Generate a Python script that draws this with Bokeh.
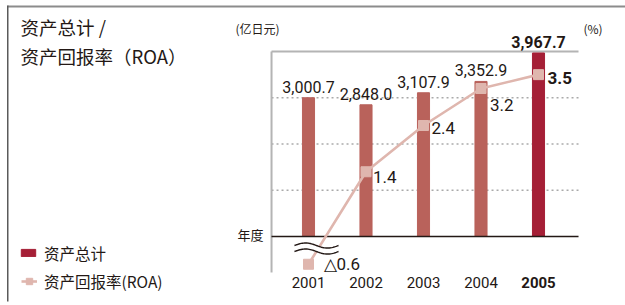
import numpy as np
from bokeh.plotting import figure
from bokeh.models import (Range1d, Label, LabelSet, ColumnDataSource,
                          Legend, LegendItem, BoxAnnotation)
from bokeh.core.properties import value, field
from bokeh.embed import file_html
from bokeh.resources import INLINE

# ---------------- data ----------------
years = [2001, 2002, 2003, 2004, 2005]
year_labels = ["2001", "2002", "2003", "2004", "2005"]
total_assets = [3000.7, 2848.0, 3107.9, 3352.9, 3967.7]   # 亿日元
roa = [-0.6, 1.4, 2.4, 3.2, 3.5]                          # %
title_lines = ["资产总计 /", "资产回报率（ROA）"]
legend_labels = ["资产总计", "资产回报率(ROA)"]
left_unit = "(亿日元)"
right_unit = "(%)"
x_caption = "年度"
grid_ticks = [1000, 2000, 3000]
axis_top = 4000

# ---------------- styles ----------------
BAR = "#B9625B"
HIGHLIGHT = "#A51F36"
ROA_C = "#DFB6AE"
INK = "#231815"
FRAME = "#B4B4B4"
NUM_FONT = "Roboto"
CJK = "Noto Sans CJK SC"
roa_dx = [15, 7, 8, 9, 9]        # label offsets (px) from marker centre
roa_dy = [0, -5, -2, -16, -3]

W, H = 625, 305
# plot-area extent in data units (left/right edge of the framed area, bottom of the axis rule)
X_LEFT = years[0] - 0.643
X_RIGHT = years[-1] + 0.696
Y_BOTTOM = -778

p = figure(width=W, height=H, output_backend="svg", toolbar_location=None,
           x_range=Range1d(1995.6435, 2006.513), y_range=Range1d(-1491.9, 5102.8),
           min_border=0, outline_line_color=None,
           background_fill_color="white", border_fill_color="white")
p.extra_y_ranges = {"roa": Range1d(-1.4919, 5.1028)}
p.axis.visible = False
p.grid.visible = False

n = len(years)
weights = ["normal"] * (n - 1) + ["bold"]
bar_src = ColumnDataSource(dict(
    x=years, top=total_assets,
    color=[BAR] * (n - 1) + [HIGHLIGHT],
    label=[f"{v:,.1f}" for v in total_assets],
    weight=weights, year=year_labels))

roa_src = ColumnDataSource(dict(
    x=years, y=roa,
    label=[("△%.1f" % -v) if v < 0 else "%.1f" % v for v in roa],
    weight=weights, dx=roa_dx, dy=roa_dy))

# dotted grid lines
p.segment(x0=X_LEFT, x1=X_RIGHT, y0=grid_ticks, y1=grid_ticks,
          line_color="#AAAAAA", line_dash="2 3", line_width=1.5)
# frame: top rule and left rule
p.segment(x0=X_LEFT, x1=X_RIGHT, y0=axis_top, y1=axis_top, line_color=FRAME, line_width=2)
p.segment(x0=X_LEFT, x1=X_LEFT, y0=Y_BOTTOM, y1=axis_top, line_color=FRAME, line_width=2)

# bars
bars = p.vbar(x="x", top="top", width=0.21, color="color", source=bar_src)
# baseline
p.segment(x0=X_LEFT, x1=X_RIGHT, y0=0, y1=0, line_color=INK, line_width=1.6)

# ROA line
roa_line = p.line(x="x", y="y", source=roa_src, y_range_name="roa",
                  line_color=ROA_C, line_width=2.6)

# axis break symbol under the first year
t = np.linspace(0, 2 * np.pi, 40)
wx = years[0] + 0.139 + 0.383 * (t / np.pi - 1)
w1 = -195 + 55 * np.sin(t)
w2 = -325 + 55 * np.sin(t)
p.varea(x=wx, y1=w1, y2=w2, fill_color="white")
p.line(x=wx, y=w1, line_color=INK, line_width=1.4)
p.line(x=wx, y=w2, line_color=INK, line_width=1.4)

roa_pts = p.scatter(x="x", y="y", source=roa_src, y_range_name="roa", marker="square",
                    size=10, fill_color=ROA_C, line_color=ROA_C)

# value labels
p.add_layout(LabelSet(x="x", y="top", text="label", source=bar_src, text_align="center",
                      text_baseline="alphabetic", y_offset=5, text_font=value(NUM_FONT),
                      text_font_size="16px", text_font_style=field("weight"), text_color=INK))
p.add_layout(LabelSet(x="x", y="y", text="label", source=roa_src, y_range_name="roa",
                      x_offset=field("dx"), y_offset=field("dy"), text_align="left",
                      text_baseline="middle", text_font=value(NUM_FONT), text_font_size="17px",
                      text_font_style=field("weight"), text_color=INK))
# year labels
p.add_layout(LabelSet(x="x", y=282, y_units="canvas", text="year", source=bar_src,
                      text_align="center", text_baseline="middle", text_font=value(NUM_FONT),
                      text_font_size="15px", text_font_style=field("weight"), text_color=INK))


def canvas_label(x, y, text, size):
    p.add_layout(Label(x=x, y=y, x_units="canvas", y_units="canvas", text=text,
                       text_baseline="middle", text_align="left", text_font=CJK,
                       text_font_size=size, text_color=INK))


canvas_label(20, 26.5, title_lines[0], "18.5px")
canvas_label(20, 55, title_lines[1], "18.5px")
canvas_label(235, 28, left_unit, "12px")
canvas_label(583, 28, right_unit, "12px")
canvas_label(237, 234, x_caption, "13px")

# legends
common = dict(padding=0, margin=0, spacing=0, border_line_color=None, background_fill_alpha=0,
              label_text_font=CJK, label_text_font_size="15.5px", label_text_color=INK,
              label_height=20, label_standoff=7)
leg1 = Legend(items=[LegendItem(label=legend_labels[0], renderers=[bars], index=n - 1)],
              location=(19, 41.5), glyph_width=18, glyph_height=9, **common)
leg2 = Legend(items=[LegendItem(label=legend_labels[1], renderers=[roa_line, roa_pts])],
              location=(21, 13), glyph_width=16, glyph_height=18, **common)
p.add_layout(leg1)
p.add_layout(leg2)

# outer border (top rule and left rule)
p.add_layout(BoxAnnotation(left=7, right=W, top=5, bottom=7, left_units="canvas",
                           right_units="canvas", top_units="canvas", bottom_units="canvas",
                           fill_color="#8C8C8C", fill_alpha=1, line_color=None))
p.add_layout(BoxAnnotation(left=6.5, right=8, top=5, bottom=301, left_units="canvas",
                           right_units="canvas", top_units="canvas", bottom_units="canvas",
                           fill_color="#5A5A5A", fill_alpha=1, line_color=None))

open("out.html", "w").write(file_html(p, INLINE))
